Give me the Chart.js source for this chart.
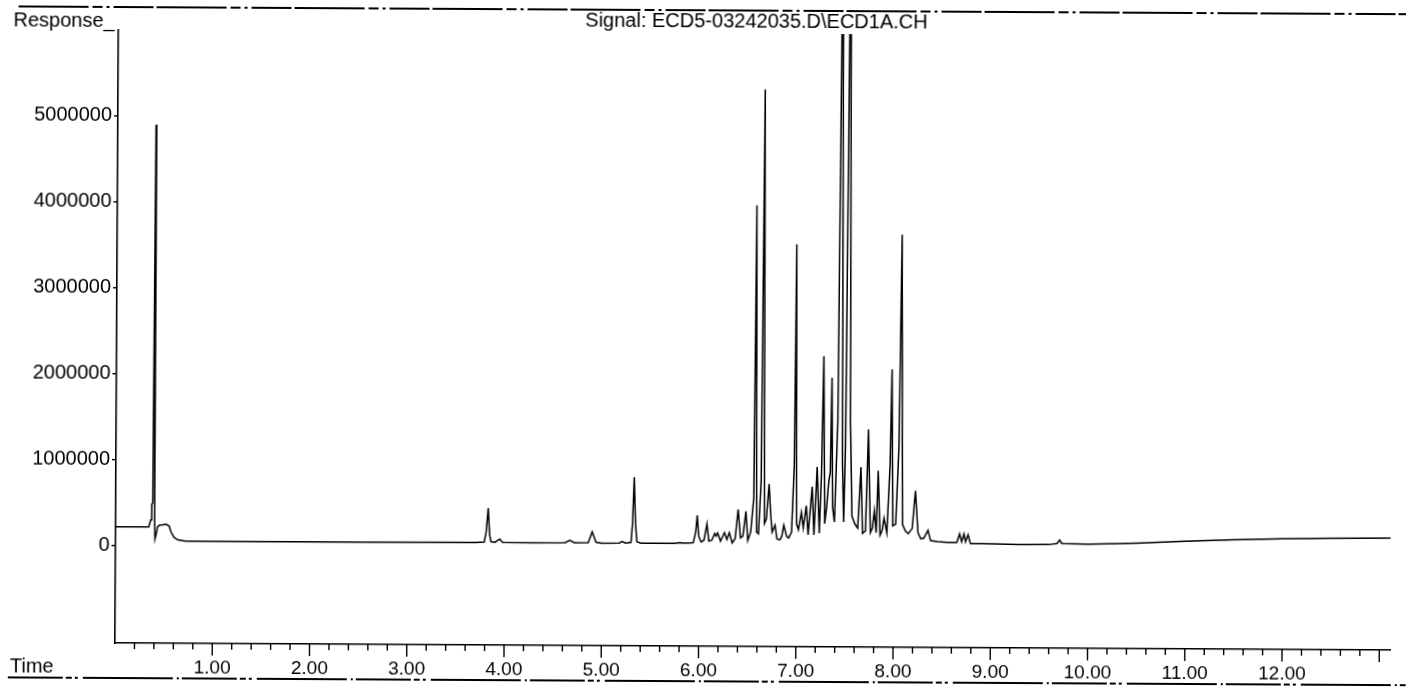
<!DOCTYPE html>
<html lang="en">
<head>
<meta charset="UTF-8">
<title>Signal: ECD5-03242035.D\ECD1A.CH</title>
<script src="https://cdn.jsdelivr.net/npm/chart.js@4.4.0/dist/chart.umd.min.js"></script>
<style>
  html, body { margin: 0; padding: 0; background: #fff; overflow: hidden; }
  /* the scanned printout is slightly skewed, turn the canvas a little round the axis corner */
  #gc { display: block; transform: rotate(0.32deg); transform-origin: 115px 643px; }
</style>
</head>
<body>
<canvas id="gc" width="1406" height="687"></canvas>
<script>
// retention time (min) and detector response
const retentionTime = [
  0.00, 0.34, 0.36, 0.37, 0.38, 0.393, 0.40, 0.405, 0.42, 0.43, 0.45, 0.52, 0.55, 0.57, 0.60, 0.64, 0.72,
  1.50, 2.50, 3.40, 3.70, 3.79, 3.81, 3.83, 3.845, 3.86, 3.90, 3.95, 3.98, 4.30,
  4.62, 4.67, 4.72, 4.86, 4.90, 4.94, 5.00, 5.18, 5.21, 5.24, 5.30, 5.315, 5.33, 5.345, 5.36, 5.40,
  5.75, 5.80, 5.85, 5.94, 5.965, 5.98, 5.995, 6.02, 6.05, 6.08, 6.10, 6.13, 6.16, 6.175, 6.19, 6.22,
  6.26, 6.285, 6.31, 6.34, 6.37, 6.40, 6.425, 6.45, 6.48, 6.50, 6.53, 6.56, 6.576, 6.59, 6.61, 6.635,
  6.655, 6.67, 6.69, 6.717, 6.735, 6.75, 6.78, 6.80, 6.83, 6.85, 6.87, 6.90, 6.92, 6.95, 6.975, 6.988,
  7.00, 7.02, 7.05, 7.07, 7.10, 7.12, 7.16, 7.18, 7.21, 7.235, 7.255, 7.273, 7.29, 7.31, 7.33, 7.345,
  7.358, 7.37, 7.39, 7.42, 7.45, 7.47, 7.485, 7.50, 7.53, 7.55, 7.57, 7.60, 7.63, 7.66, 7.68, 7.71,
  7.736, 7.76, 7.78, 7.80, 7.82, 7.838, 7.86, 7.88, 7.90, 7.93, 7.96, 7.975, 7.99, 8.02, 8.05, 8.071,
  8.09, 8.12, 8.15, 8.19, 8.222, 8.25, 8.28, 8.31, 8.353, 8.38, 8.45, 8.55, 8.65, 8.678, 8.70, 8.723,
  8.74, 8.765, 8.79, 8.90, 9.30, 9.60, 9.68, 9.707, 9.73, 10.00, 10.50, 11.00, 11.50, 12.00, 12.50, 13.11
];
const response = [
  220000, 220000, 300000, 480000, 500000, 4900000, 300000, 80000, 150000, 220000, 240000, 250000, 230000, 160000, 100000, 70000, 55000,
  55000, 56000, 58000, 60000, 65000, 180000, 460000, 160000, 70000, 62000, 100000, 62000, 60000,
  62000, 90000, 62000, 65000, 190000, 70000, 60000, 62000, 80000, 62000, 70000, 300000, 830000, 300000, 80000, 62000,
  62000, 70000, 65000, 70000, 200000, 390000, 150000, 80000, 100000, 290000, 90000, 100000, 180000, 150000, 185000, 90000,
  190000, 110000, 190000, 70000, 120000, 460000, 130000, 150000, 440000, 100000, 200000, 600000, 4000000, 200000, 180000, 800000,
  5350000, 300000, 350000, 760000, 400000, 200000, 280000, 120000, 110000, 150000, 280000, 150000, 130000, 200000, 1000000, 3550000,
  300000, 230000, 430000, 250000, 510000, 170000, 730000, 170000, 960000, 190000, 900000, 2250000, 300000, 500000, 790000, 900000,
  2000000, 500000, 320000, 1500000, 8000000, 1000000, 320000, 1200000, 8000000, 1500000, 390000, 300000, 250000, 960000, 190000, 220000,
  1400000, 200000, 250000, 450000, 200000, 920000, 170000, 220000, 370000, 200000, 1000000, 2100000, 280000, 300000, 1200000, 3670000,
  300000, 220000, 190000, 250000, 690000, 200000, 130000, 140000, 230000, 110000, 100000, 90000, 90000, 190000, 100000, 190000,
  100000, 180000, 80000, 80000, 70000, 72000, 85000, 125000, 85000, 80000, 95000, 120000, 140000, 155000, 165000, 170000
];
const timeLabelTicks = [1, 2, 3, 4, 5, 6, 7, 8, 9, 10, 11, 12];
const responseTicks = [0, 1000000, 2000000, 3000000, 4000000, 5000000];
const signalTitle = 'Signal: ECD5-03242035.D\\ECD1A.CH';

const FONT = "'Liberation Sans', Arial, sans-serif";

const printoutDecor = {
  id: 'printoutDecor',
  afterDraw(chart) {
    const { ctx, chartArea } = chart;
    const x = chart.scales.x, y = chart.scales.y;
    ctx.save();
    ctx.strokeStyle = '#000';
    ctx.lineWidth = 1.4;
    // time axis ticks, every 0.2 min, long ones on whole minutes
    for (let i = 1; i <= 65; i++) {
      const px = x.getPixelForValue(i * 0.2);
      ctx.beginPath();
      ctx.moveTo(px, chartArea.bottom);
      ctx.lineTo(px, chartArea.bottom + (i % 5 === 0 ? 12 : 6));
      ctx.stroke();
    }
    // response ticks
    responseTicks.forEach(v => {
      const py = y.getPixelForValue(v);
      ctx.beginPath();
      ctx.moveTo(chartArea.left - 4, py);
      ctx.lineTo(chartArea.left, py);
      ctx.stroke();
    });

    ctx.fillStyle = '#000';
    ctx.font = '20px ' + FONT;
    ctx.textBaseline = 'alphabetic';
    ctx.textAlign = 'left';
    ctx.fillText('Response_', 10, 27);
    ctx.fillText('Time', 10, 673);
    ctx.textAlign = 'center';
    ctx.fillText(signalTitle, 753, 24);

    // header / footer rules of the report page
    ctx.lineWidth = 2;
    ctx.setLineDash([70, 4, 10, 4, 3, 4, 40, 3]);
    ctx.beginPath();
    ctx.moveTo(15, 7);
    ctx.lineTo(1406, 7);
    ctx.stroke();
    ctx.setLineDash([55, 3, 6, 3, 3, 5, 90, 4, 2, 3]);
    ctx.beginPath();
    ctx.moveTo(8, 678);
    ctx.lineTo(1406, 678);
    ctx.stroke();
    ctx.restore();
  }
};

new Chart(document.getElementById('gc'), {
  type: 'line',
  data: {
    datasets: [{
      data: retentionTime.map((t, i) => ({ x: t, y: response[i] })),
      borderColor: '#000',
      borderWidth: 1.5,
      pointRadius: 0,
      tension: 0,
      fill: false
    }]
  },
  options: {
    responsive: false,
    animation: false,
    events: [],
    layout: { padding: { left: 0, right: 16, top: 30, bottom: 0 } },
    plugins: { legend: { display: false }, tooltip: { enabled: false } },
    scales: {
      x: {
        type: 'linear',
        min: 0,
        max: 13.11,
        afterBuildTicks: (scale) => { scale.ticks = timeLabelTicks.map(v => ({ value: v })); },
        afterFit: (scale) => { scale.height = 44; },
        grid: { display: false, drawTicks: false },
        border: { display: true, color: '#000', width: 1.6 },
        ticks: {
          autoSkip: false,
          maxRotation: 0,
          padding: 13,
          color: '#000',
          font: { family: FONT, size: 19 },
          callback: (v) => Number(v).toFixed(2)
        }
      },
      y: {
        min: -1134000,
        max: 6000000,
        afterBuildTicks: (scale) => { scale.ticks = responseTicks.map(v => ({ value: v })); },
        afterFit: (scale) => { scale.width = 115; },
        grid: { display: false, drawTicks: false },
        border: { display: true, color: '#000', width: 1.6 },
        ticks: {
          padding: 6,
          color: '#000',
          font: { family: FONT, size: 20 },
          callback: (v) => String(v)
        }
      }
    }
  },
  plugins: [printoutDecor]
});
</script>
</body>
</html>
